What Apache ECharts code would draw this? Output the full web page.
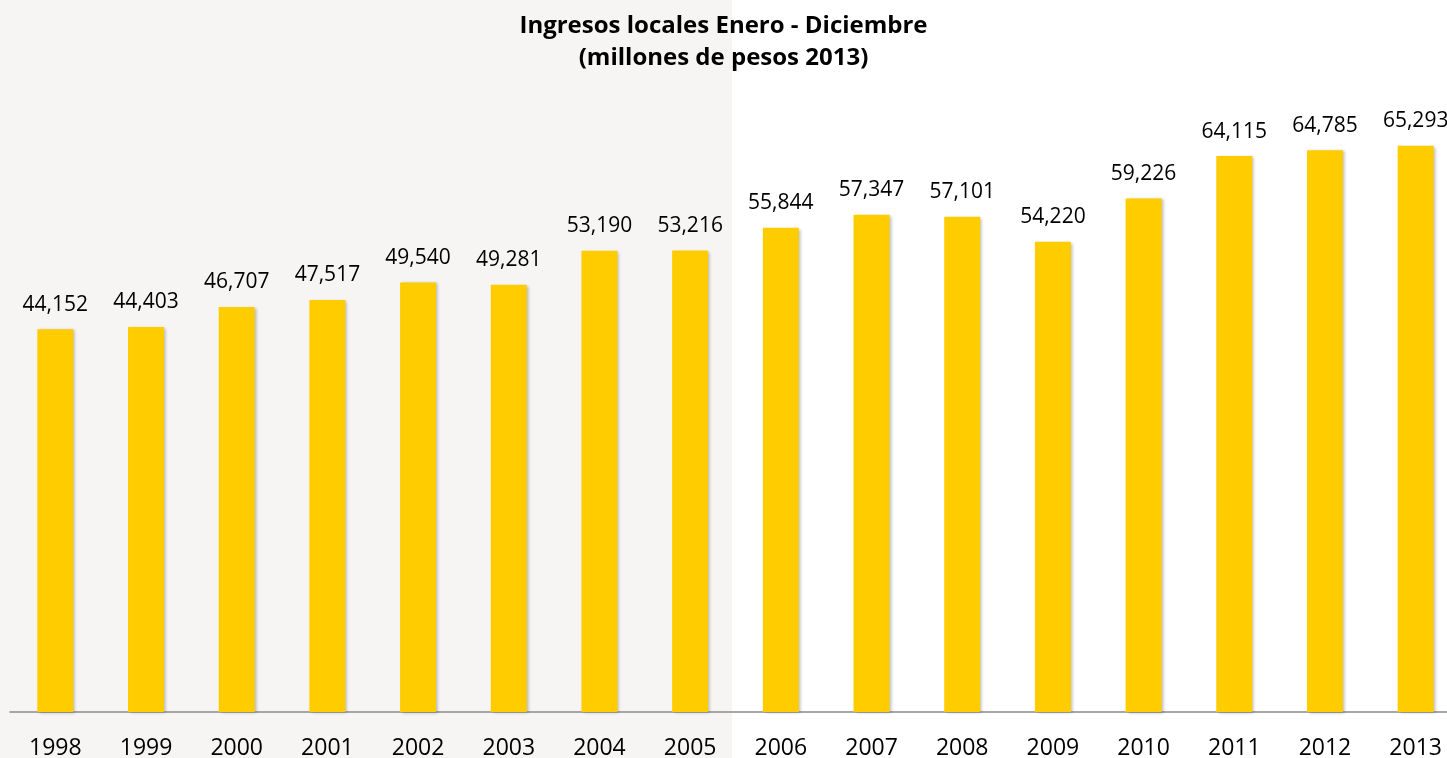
<!DOCTYPE html>
<html>
<head>
<meta charset="utf-8">
<script src="https://cdn.jsdelivr.net/npm/echarts@6/dist/echarts.min.js"></script>
<style>
  html, body { margin: 0; padding: 0; background: #ffffff; }
  #chart { width: 1447px; height: 758px; }
</style>
</head>
<body>
<div id="chart"></div>
<script>
  // años y valores (millones de pesos 2013)
  const years = ['1998', '1999', '2000', '2001', '2002', '2003', '2004', '2005',
    '2006', '2007', '2008', '2009', '2010', '2011', '2012', '2013'];
  const ingresos = [44152, 44403, 46707, 47517, 49540, 49281, 53190, 53216,
    55844, 57347, 57101, 54220, 59226, 64115, 64785, 65293];

  const chart = echarts.init(document.getElementById('chart'));
  const fmt = (v) => v.toLocaleString('en-US');

  chart.setOption({
    backgroundColor: '#ffffff',
    animation: false,
    title: {
      text: 'Ingresos locales Enero - Diciembre\n(millones de pesos 2013)',
      left: 'center',
      top: 5,
      textStyle: {
        fontFamily: 'Open Sans',
        fontSize: 24,
        fontWeight: 'bold',
        color: '#000000',
        lineHeight: 32,
      },
    },
    graphic: [
      {
        type: 'rect',
        z: -10,
        silent: true,
        shape: { x: 0, y: 0, width: 732, height: 758 },
        style: { fill: '#f6f5f3' },
      },
    ],
    // el eje sigue un poco más allá del borde derecho
    grid: { left: 10, width: 1451, top: 105, bottom: 46, outerBoundsMode: 'none' },
    xAxis: {
      type: 'category',
      data: years,
      axisLine: { lineStyle: { color: '#8c8c8c', width: 1.5 } },
      axisTick: { show: false },
      axisLabel: {
        margin: 25,
        fontFamily: 'Open Sans',
        fontSize: 23,
        color: '#000000',
      },
    },
    yAxis: {
      type: 'value',
      min: 0,
      max: 70000,
      show: false,
      splitLine: { show: false },
    },
    series: [
      {
        type: 'bar',
        data: ingresos,
        barWidth: 36,
        itemStyle: {
          color: '#ffcc00',
          shadowColor: 'rgba(0,0,0,0.25)',
          shadowBlur: 3,
          shadowOffsetX: 2,
          shadowOffsetY: 1,
        },
        label: {
          show: true,
          position: 'top',
          distance: 14,
          fontFamily: 'Open Sans',
          fontSize: 21,
          color: '#000000',
          formatter: (p) => fmt(p.value),
        },
      },
    ],
  });
</script>
</body>
</html>
